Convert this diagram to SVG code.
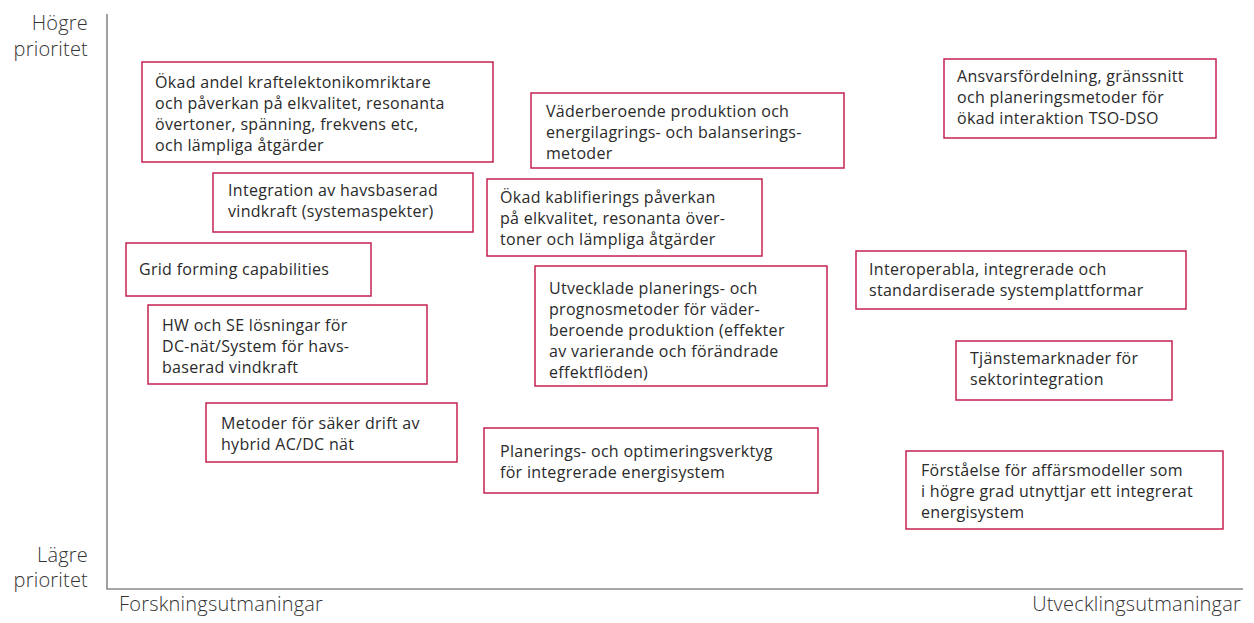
<svg xmlns="http://www.w3.org/2000/svg" width="1254" height="623" viewBox="0 0 1254 623">
  <style>
    .axis { stroke: #8a8a8a; stroke-width: 1.6; fill: none; }
    .axlbl { font-family: "Open Sans", "Liberation Sans", sans-serif; font-size: 20px; fill: #333333; font-weight: 300; letter-spacing: 0.2px; }
    .box { fill: #ffffff; stroke: #c62251; stroke-width: 1.5; }
    .txt { font-family: "Open Sans", "Liberation Sans", sans-serif; font-size: 16px; fill: #2a2a2a; font-weight: 400; letter-spacing: 0.3px; }
  </style>

  <!-- axes -->
  <g id="axes">
    <path class="axis" d="M107,14 V589 H1243"/>
    <text class="axlbl" x="88" y="30" text-anchor="end">Högre</text>
    <text class="axlbl" x="88" y="56" text-anchor="end">prioritet</text>
    <text class="axlbl" x="88" y="562" text-anchor="end">Lägre</text>
    <text class="axlbl" x="88" y="587" text-anchor="end">prioritet</text>
    <text class="axlbl" x="119" y="611">Forskningsutmaningar</text>
    <text class="axlbl" x="1241" y="611" text-anchor="end">Utvecklingsutmaningar</text>
  </g>

  <g id="connectors"></g>

  <g id="n-kraftelektronik">
    <rect class="box" x="142" y="62" width="351" height="100"/>
    <text class="txt" x="155" y="88">Ökad andel kraftelektonikomriktare</text>
    <text class="txt" x="155" y="109">och påverkan på elkvalitet, resonanta</text>
    <text class="txt" x="155" y="130">övertoner, spänning, frekvens etc,</text>
    <text class="txt" x="155" y="151">och lämpliga åtgärder</text>
  </g>

  <g id="n-vaderberoende">
    <rect class="box" x="531" y="93" width="313" height="75"/>
    <text class="txt" x="546" y="117">Väderberoende produktion och</text>
    <text class="txt" x="546" y="138">energilagrings- och balanserings-</text>
    <text class="txt" x="546" y="159">metoder</text>
  </g>

  <g id="n-ansvarsfordelning">
    <rect class="box" x="944" y="59" width="272" height="79"/>
    <text class="txt" x="957" y="82">Ansvarsfördelning, gränssnitt</text>
    <text class="txt" x="957" y="103">och planeringsmetoder för</text>
    <text class="txt" x="957" y="124">ökad interaktion TSO-DSO</text>
  </g>

  <g id="n-havsbaserad">
    <rect class="box" x="213" y="173" width="260" height="59"/>
    <text class="txt" x="228" y="196">Integration av havsbaserad</text>
    <text class="txt" x="228" y="217">vindkraft (systemaspekter)</text>
  </g>

  <g id="n-kablifiering">
    <rect class="box" x="487" y="179" width="275" height="77"/>
    <text class="txt" x="500" y="203">Ökad kablifierings påverkan</text>
    <text class="txt" x="500" y="224">på elkvalitet, resonanta över-</text>
    <text class="txt" x="500" y="245">toner och lämpliga åtgärder</text>
  </g>

  <g id="n-gridforming">
    <rect class="box" x="126" y="243" width="245" height="53"/>
    <text class="txt" x="139" y="275">Grid forming capabilities</text>
  </g>

  <g id="n-prognosmetoder">
    <rect class="box" x="535" y="266" width="292" height="120"/>
    <text class="txt" x="549" y="294">Utvecklade planerings- och</text>
    <text class="txt" x="549" y="315">prognosmetoder för väder-</text>
    <text class="txt" x="549" y="336">beroende produktion (effekter</text>
    <text class="txt" x="549" y="357">av varierande och förändrade</text>
    <text class="txt" x="549" y="378">effektflöden)</text>
  </g>

  <g id="n-interoperabla">
    <rect class="box" x="856" y="251" width="330" height="58"/>
    <text class="txt" x="869" y="275">Interoperabla, integrerade och</text>
    <text class="txt" x="869" y="296">standardiserade systemplattformar</text>
  </g>

  <g id="n-dcnat">
    <rect class="box" x="148" y="305" width="279" height="79"/>
    <text class="txt" x="162" y="331">HW och SE lösningar för</text>
    <text class="txt" x="162" y="352">DC-nät/System för havs-</text>
    <text class="txt" x="162" y="373">baserad vindkraft</text>
  </g>

  <g id="n-tjanstemarknader">
    <rect class="box" x="956" y="341" width="216" height="59"/>
    <text class="txt" x="970" y="364">Tjänstemarknader för</text>
    <text class="txt" x="970" y="385">sektorintegration</text>
  </g>

  <g id="n-hybrid">
    <rect class="box" x="206" y="403" width="251" height="59"/>
    <text class="txt" x="221" y="429">Metoder för säker drift av</text>
    <text class="txt" x="221" y="450">hybrid AC/DC nät</text>
  </g>

  <g id="n-optimering">
    <rect class="box" x="484" y="428" width="334" height="65"/>
    <text class="txt" x="500" y="457">Planerings- och optimeringsverktyg</text>
    <text class="txt" x="500" y="478">för integrerade energisystem</text>
  </g>

  <g id="n-affarsmodeller">
    <rect class="box" x="906" y="451" width="317" height="78"/>
    <text class="txt" x="921" y="476">Förståelse för affärsmodeller som</text>
    <text class="txt" x="921" y="497">i högre grad utnyttjar ett integrerat</text>
    <text class="txt" x="921" y="518">energisystem</text>
  </g>
</svg>
